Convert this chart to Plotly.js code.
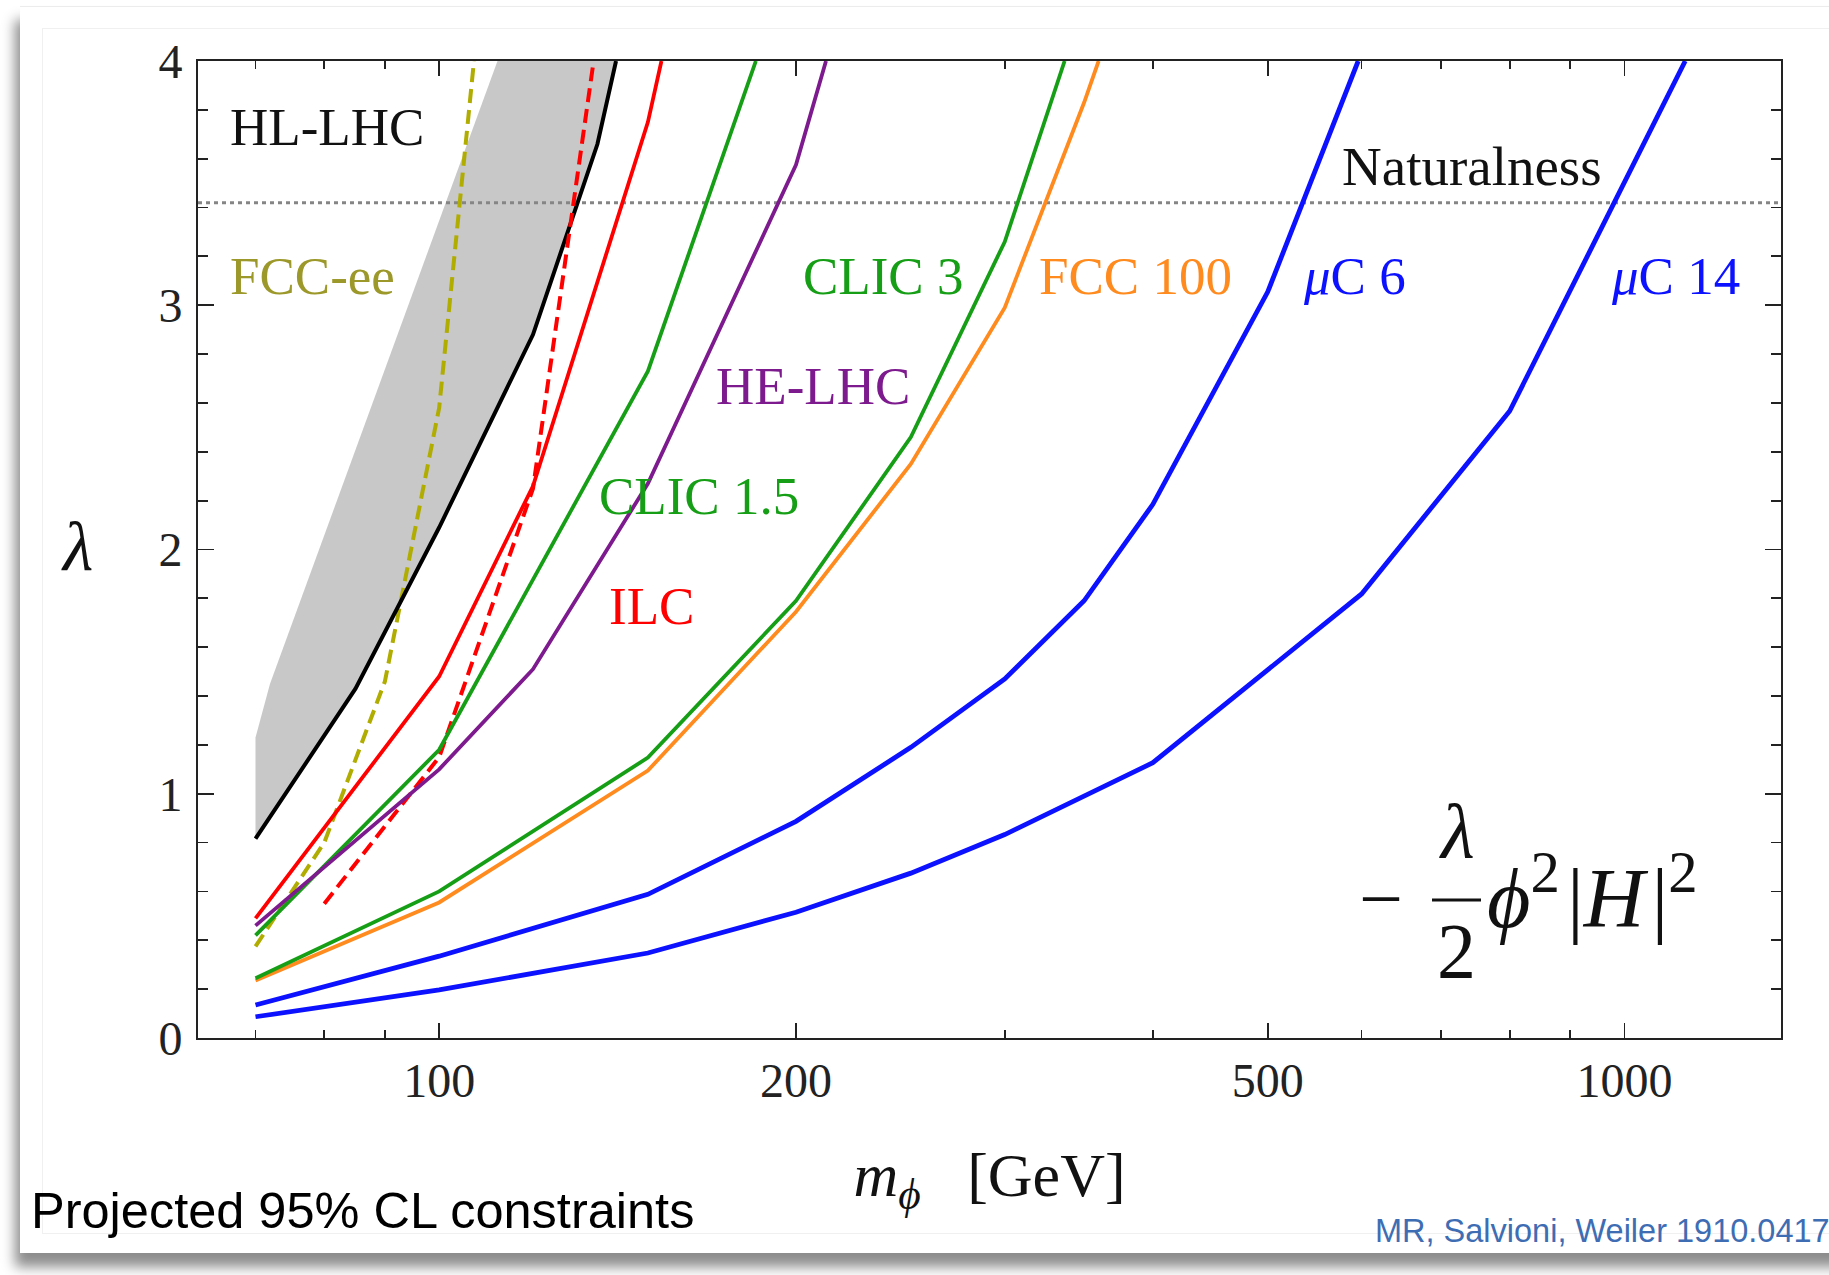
<!DOCTYPE html>
<html>
<head>
<meta charset="utf-8">
<script src="https://cdn.plot.ly/plotly-3.0.1.min.js"></script>
<style>
  html, body { margin:0; padding:0; background:#ffffff; width:1829px; height:1275px; overflow:hidden; }
  #card { position:absolute; left:20px; top:6px; width:1900px; height:1246px; background:#fff;
          border-top:1px solid #ececec; box-shadow:-5px 14px 12px rgba(0,0,0,0.45); }
  #inner { position:absolute; left:42px; top:28px; width:1900px; height:1204px; border:1px solid #f0f0f0; }
  #plot { position:absolute; left:0; top:0; width:1829px; height:1275px; }
</style>
</head>
<body>
<div id="card"></div>
<div id="inner"></div>
<div id="plot"></div>
<script>
// ---- data: m_phi [GeV] vs lambda ----
const hlLhcM  = [70, 85, 100, 120, 136, 141];
const hlLhcL  = [0.816, 1.43, 2.09, 2.88, 3.66, 4.0];
const bandLeftM = [70, 72, 112];
const bandLeftL = [1.23, 1.45, 4.0];
const fccEeM  = [70, 80, 90, 100, 107];
const fccEeL  = [0.375, 0.80, 1.46, 2.58, 4.0];
const ilcM    = [70, 100, 120, 150, 154];
const ilcL    = [0.49, 1.48, 2.26, 3.75, 4.0];
const ilcDashM = [80, 100, 120, 135];
const ilcDashL = [0.55, 1.15, 2.25, 4.0];
const clic15M = [70, 100, 150, 185];
const clic15L = [0.42, 1.18, 2.73, 4.0];
const heLhcM  = [70, 100, 120, 150, 200, 212];
const heLhcL  = [0.46, 1.10, 1.51, 2.27, 3.575, 4.0];
const clic3M  = [70, 100, 150, 200, 250, 300, 337];
const clic3L  = [0.245, 0.60, 1.148, 1.79, 2.46, 3.26, 4.0];
const fcc100M = [70, 100, 150, 200, 250, 300, 350, 360];
const fcc100L = [0.235, 0.555, 1.095, 1.745, 2.35, 2.99, 3.83, 4.0];
const muC6M   = [70, 100, 150, 200, 250, 300, 350, 400, 500, 596];
const muC6L   = [0.135, 0.335, 0.588, 0.887, 1.19, 1.47, 1.79, 2.185, 3.055, 4.0];
const muC14M  = [70, 100, 150, 200, 250, 300, 400, 600, 800, 1125];
const muC14L  = [0.087, 0.197, 0.348, 0.515, 0.675, 0.833, 1.127, 1.818, 2.567, 4.0];
const naturalnessL = 3.42;

const xMajorTicks = [100, 200, 500, 1000];
const xMajorText  = ['100', '200', '500', '1000'];
const xMinorTicks = [70, 80, 90, 300, 400, 600, 700, 800, 900];
const xRangeM = [62.6, 1355];

// ---- styling ----
const C = {
  black:'#000000', red:'#ff0000', green:'#169f16', purple:'#7d1a8e', orange:'#ff8a1e',
  blue:'#0c12ff', olive:'#b0ac00', oliveText:'#9c982a', band:'#c8c8c8', nat:'#858585'
};
const serif = 'Liberation Serif, Times New Roman, serif';
const sans = 'Liberation Sans, Arial, sans-serif';

function line(x, y, color, width, dash) {
  return {x:x, y:y, type:'scatter', mode:'lines', hoverinfo:'skip', showlegend:false,
          line:{color:color, width:width, dash:dash || 'solid'}};
}

const band = {
  x: bandLeftM.concat(hlLhcM.slice().reverse()),
  y: bandLeftL.concat(hlLhcL.slice().reverse()),
  type:'scatter', mode:'lines', fill:'toself', fillcolor:C.band,
  line:{width:0, color:C.band}, hoverinfo:'skip', showlegend:false
};
const natural = line(xRangeM, [naturalnessL, naturalnessL], C.nat, 3, '4px,4px');

const traces = [
  band,
  natural,
  line(fccEeM, fccEeL, C.olive, 4, '14px,7px'),
  line(hlLhcM, hlLhcL, C.black, 4),
  line(ilcDashM, ilcDashL, C.red, 4, '14px,7px'),
  line(ilcM, ilcL, C.red, 3.8),
  line(clic15M, clic15L, C.green, 3.8),
  line(heLhcM, heLhcL, C.purple, 3.8),
  line(fcc100M, fcc100L, C.orange, 3.8),
  line(clic3M, clic3L, C.green, 3.8),
  line(muC6M, muC6L, C.blue, 4.8),
  line(muC14M, muC14L, C.blue, 4.8)
];

const L = Math.log10;
function lab(text, m, lam, color, size) {
  return {text:text, x:L(m), y:lam, xref:'x', yref:'y', xanchor:'left', yanchor:'middle',
          showarrow:false, font:{family:serif, size:size || 53, color:color}};
}
function pap(text, x, y, opts) {
  return Object.assign({text:text, x:x, y:y, xref:'paper', yref:'paper', showarrow:false,
          xanchor:'center', yanchor:'middle', font:{family:serif, size:78, color:'#111'}}, opts || {});
}
// pixel helpers (plot box: left 198, top 61, width 1583, height 977)
const PX = p => (p - 198) / 1583;
const PY = p => (1038 - p) / 977;

const annotations = [
  lab('HL-LHC', 66.4, 3.73, '#111'),
  lab('FCC-ee', 66.4, 3.12, C.oliveText),
  lab('CLIC 3', 201.8, 3.12, C.green),
  lab('FCC 100', 319.3, 3.12, C.orange),
  lab('<i>μ</i>C 6', 533.5, 3.12, C.blue),
  lab('<i>μ</i>C 14', 969.6, 3.12, C.blue),
  lab('Naturalness', 575, 3.57, '#111', 55),
  lab('HE-LHC', 170.4, 2.67, C.purple),
  lab('CLIC 1.5', 135.8, 2.22, C.green),
  lab('ILC', 138.5, 1.77, C.red),
  // y-axis symbol
  pap('<i>λ</i>', PX(77), PY(546), {font:{family:serif, size:70, color:'#111'}}),
  // formula  - (lambda/2) phi^2 |H|^2
  pap('−', PX(1381), PY(898)),
  pap('<i>λ</i>', PX(1457), PY(831)),
  pap('2', PX(1456), PY(950)),
  pap('<i>ϕ</i><sup>2</sup>\u200a|<i>H</i>\u200a|<sup>2</sup>', PX(1485), PY(892), {xanchor:'left', font:{family:serif, size:84, color:'#111'}}),
  // slide texts
  pap('Projected 95% CL constraints', PX(29), PY(1210), {xanchor:'left', font:{family:sans, size:50.5, color:'#000'}}),
  pap('MR, Salvioni, Weiler 1910.04170', PX(1373), PY(1231), {xanchor:'left', font:{family:sans, size:32.5, color:'#3e6db3'}})
];

const shapes = [
  {type:'line', xref:'paper', yref:'paper', x0:PX(1432), x1:PX(1481), y0:PY(900), y1:PY(900),
   line:{color:'#111', width:3}}
];

const axisCommon = {
  showline:true, mirror:'ticks', linecolor:'#222', linewidth:1.8, showgrid:false, zeroline:false,
  ticks:'inside', tickcolor:'#222', tickwidth:1.8, tickfont:{family:serif, size:48, color:'#222'}
};

const layout = {
  width:1829, height:1275,
  margin:{l:198, r:48, t:61, b:237, pad:0},
  paper_bgcolor:'rgba(0,0,0,0)', plot_bgcolor:'#ffffff',
  showlegend:false,
  xaxis: Object.assign({}, axisCommon, {
    type:'log', range:[L(xRangeM[0]), L(xRangeM[1])],
    tickmode:'array', tickvals:xMajorTicks, ticktext:xMajorText, ticklen:15,
    ticklabelstandoff:0,
    minor:{tickmode:'array', tickvals:xMinorTicks, ticklen:8, ticks:'inside', tickcolor:'#222', tickwidth:1.8, showgrid:false},
    title:{text:'<i>m</i><sub><i>ϕ</i></sub>   [GeV]', font:{family:serif, size:62, color:'#111'}, standoff:46}
  }),
  yaxis: Object.assign({}, axisCommon, {
    range:[0, 4], tickmode:'array', tickvals:[0,1,2,3,4], ticktext:['0','1','2','3','4'], ticklen:16,
    ticklabelstandoff:4,
    minor:{dtick:0.2, ticklen:10, ticks:'inside', tickcolor:'#222', tickwidth:1.8, showgrid:false}
  }),
  annotations: annotations,
  shapes: shapes
};

Plotly.newPlot('plot', traces, layout, {displayModeBar:false, staticPlot:true});
</script>
</body>
</html>
